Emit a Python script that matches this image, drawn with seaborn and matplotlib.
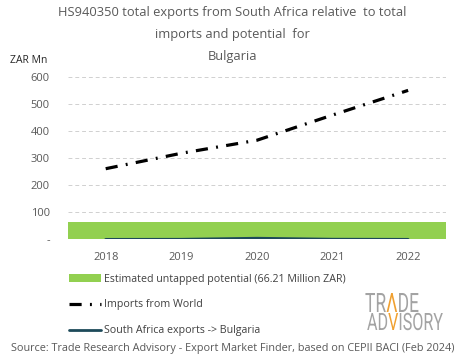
import seaborn as sns
import matplotlib.pyplot as plt
import pandas as pd
from matplotlib.patches import Patch, PathPatch
from matplotlib.lines import Line2D
from matplotlib.textpath import TextPath, text_to_path
from matplotlib.font_manager import FontProperties
from matplotlib.transforms import Affine2D, IdentityTransform

# datos (ZAR Mn)
years = ["2018", "2019", "2020", "2021", "2022"]
imports_world = [261, 318, 366, 459, 550]
sa_exports = [0.3, 0.6, 4.5, 0.9, 0.4]
untapped = [66.21, 66.21, 66.21, 66.21, 66.21]
yticks = [0, 100, 200, 300, 400, 500, 600]
ytick_labels = ["-", "100", "200", "300", "400", "500", "600"]

sns.set_theme(style="white")
plt.rcParams['font.family'] = ['Open Sans', 'DejaVu Sans']

df = pd.DataFrame({"year": years, "imports": imports_world,
                   "sa": sa_exports, "potential": untapped})

fig = plt.figure(figsize=(4.65, 3.59), dpi=100)
ax = fig.add_axes([0.146, 0.333, 0.813, 0.453])

sns.barplot(data=df, x="year", y="potential", color="#92d050", width=1.0,
            saturation=1, linewidth=0, edgecolor="none", ax=ax, zorder=2)
sns.lineplot(data=df, x="year", y="imports", color="black", lw=2.3,
             linestyle=(0, (3.8, 2.6, 0.6, 2.6)), ax=ax, zorder=3)
sns.lineplot(data=df, x="year", y="sa", color="#1d4a5a", lw=2, ax=ax, zorder=3)

ax.set_xlim(-0.5, 4.5)
ax.set_ylim(0, 600)
ax.set_yticks(yticks)
ax.set_yticklabels(ytick_labels)
ax.yaxis.grid(True, linestyle=(0, (4, 3)), color="#d0d0d0", lw=0.7, zorder=0)
ax.set_axisbelow(True)
sns.despine(ax=ax, left=True, bottom=True)
ax.tick_params(axis="x", length=0, labelsize=8, colors="#595959", pad=9)
ax.tick_params(axis="y", length=0, labelsize=8, colors="#595959", pad=13)
ax.set_xlabel("")
ax.set_ylabel("")

tcol = "#595959"
fig.text(0.5, 0.965, "HS940350 total exports from South Africa relative  to total",
         ha="center", va="center", fontsize=9.3, color=tcol)
fig.text(0.5, 0.905, "imports and potential  for", ha="center", va="center",
         fontsize=9.3, color=tcol)
fig.text(0.5, 0.842, "Bulgaria", ha="center", va="center", fontsize=9.3, color=tcol)
fig.text(0.022, 0.832, "ZAR Mn", ha="left", va="center", fontsize=7.5, color="#262626")

handles = [Patch(facecolor="#92d050", edgecolor="none"),
           Line2D([], [], color="black", lw=2.3, linestyle=(0, (3.8, 2.6, 0.6, 2.6))),
           Line2D([], [], color="#1d4a5a", lw=2)]
labels = ["Estimated untapped potential (66.21 Million ZAR)",
          "Imports from World", "South Africa exports -> Bulgaria"]
fig.legend(handles, labels, loc="upper left", bbox_to_anchor=(0.14, 0.25),
           frameon=False, fontsize=7.7, labelcolor="#404040", handlelength=3.0,
           handletextpad=0.2, labelspacing=1.4, borderaxespad=0)

# logo: texto como trazado, comprimido en horizontal (coordenadas en pixeles)
prop = FontProperties(family="Roboto", weight="normal", size=10)
H = 359


def text_w(s):
    return text_to_path.get_text_width_height_descent(s, prop, ismath=False)[0]


def logo_row(x0, baseline, width, cap, pieces):
    full = "".join(p[0] for p in pieces)
    cap_h = TextPath((0, 0), "H", prop=prop).get_extents().height
    tr = Affine2D().scale(width / text_w(full), cap / cap_h).translate(x0, H - baseline)
    offset = 0.0
    for txt, col in pieces:
        path = TextPath((offset, 0), txt, prop=prop)
        fig.patches.append(PathPatch(path, facecolor=col, edgecolor="none",
                                     transform=tr + IdentityTransform(), figure=fig))
        offset += text_w(txt)


gray = "#a3a3a3"
orange = "#f0a030"
logo_row(365, 312, 54, 19, [("TR", gray), ("\u039b", orange), ("DE", gray)])
logo_row(367, 330, 76, 17, [("AD", gray), ("V", orange), ("ISORY", gray)])

fig.text(0.5, 0.028, "Source: Trade Research Advisory - Export Market Finder, based on CEPII BACI (Feb 2024)",
         ha="center", va="center", fontsize=7.8, color=tcol)

fig.savefig("out.png", dpi=100)
